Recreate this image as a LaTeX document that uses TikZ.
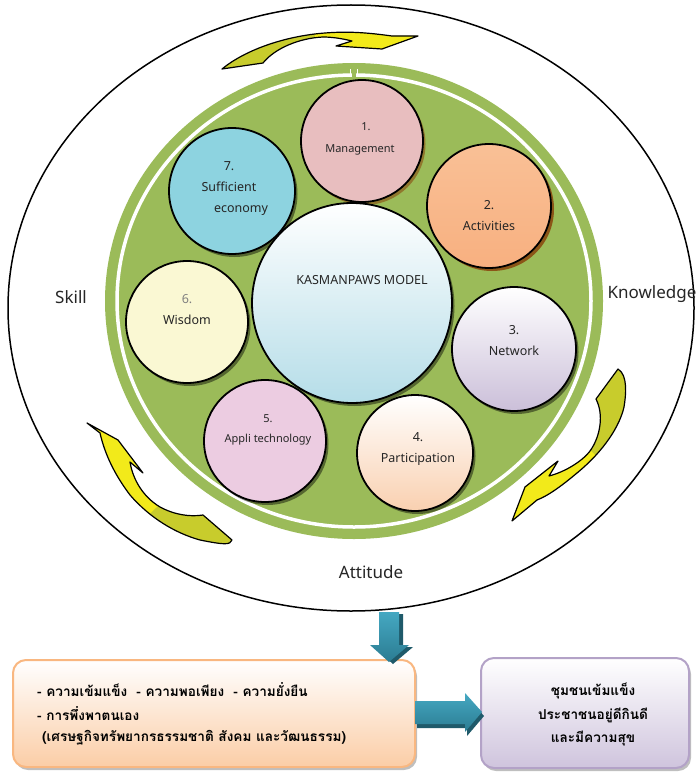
\documentclass[tikz,border=0pt]{standalone}
\usepackage{fontspec}
\setmainfont{Noto Sans}
\newfontfamily\thaifont[Script=Thai]{Loma}
\usetikzlibrary{shadows}
\definecolor{grn}{HTML}{9BBB59}
\definecolor{txt}{HTML}{262626}
\definecolor{yel}{HTML}{F2EA1A}
\definecolor{oli}{HTML}{C8CC2C}
\definecolor{tealL}{HTML}{45A8C2}
\definecolor{tealD}{HTML}{2B7C92}
\definecolor{tealS}{HTML}{1F5A6A}
\definecolor{mgA}{HTML}{E8BEBF}
\definecolor{mgB}{HTML}{F6E6E6}
\definecolor{orA}{HTML}{F9C096}
\definecolor{orB}{HTML}{F58F40}
\definecolor{orC}{HTML}{F8B080}
\definecolor{bluC}{HTML}{8DD3E0}
\definecolor{cenB}{HTML}{B5DDE8}
\definecolor{wisC}{HTML}{FAF8D3}
\definecolor{lavB}{HTML}{CBBFD9}
\definecolor{pinkC}{HTML}{ECCCE1}
\definecolor{peachB}{HTML}{F9D0B0}
\definecolor{brn}{HTML}{8A4A10}
\definecolor{boxOr}{HTML}{F9B780}
\definecolor{boxOrF}{HTML}{FBCDA6}
\definecolor{boxPu}{HTML}{B3A2C7}
\definecolor{boxPuF}{HTML}{CFC4DD}
\begin{document}
\begin{tikzpicture}[x=1pt,y=-1pt,line join=round,
  sat/.style={circle,draw=black,line width=1.8pt,inner sep=0pt},
  shd/.style={drop shadow={shadow xshift=2.5pt,shadow yshift=-3pt,fill=black,opacity=0.45}},
  lbl/.style={align=center,inner sep=0pt,text=txt,font=\fontsize{12.5}{21}\selectfont},
  big/.style={inner sep=0pt,text=txt,font=\fontsize{17}{20}\selectfont},
  yarrow/.style={draw=black,line width=1.2pt},
  thl/.style={inner sep=0pt,text=black,font=\thaifont\bfseries\fontsize{13.6}{16}\selectfont},
  bx/.style={rounded corners=13pt,line width=2pt,inner sep=0pt}]
\useasboundingbox (0,0) rectangle (699,773);
\fill[white] (0,0) rectangle (699,773);

% outer ellipse
\draw[black,line width=1.5pt] (351,308) ellipse [x radius=343pt,y radius=303pt];

% green disc with white ring
\fill[grn] (354,301) ellipse [x radius=249pt,y radius=238pt];
\draw[white,line width=3.5pt] (354,301) ellipse [x radius=237pt,y radius=226pt];
\fill[grn] (352,70) rectangle (356,80);
\draw[white,line width=1.5pt] (350.5,69) -- (350.5,76) (357.5,69) -- (357.5,76);

% satellite circles
\node[sat,minimum size=122pt,top color=mgA,middle color=mgB,bottom color=mgA,shading angle=45,
  drop shadow={shadow xshift=2.5pt,shadow yshift=-3pt,fill=brn,opacity=0.6}] (c1) at (362,141) {};
\node[sat,minimum size=124pt,top color=orA,middle color=orB,bottom color=orC,
  drop shadow={shadow xshift=3pt,shadow yshift=-3pt,fill=brn,opacity=0.9}] (c2) at (489,206) {};
\node[sat,shd,minimum size=126pt,fill=bluC] (c7) at (232,191) {};
\node[sat,shd,minimum size=200pt,top color=white,bottom color=cenB] (c0) at (352,303) {};
\node[sat,shd,minimum size=122pt,fill=wisC] (c6) at (187,322) {};
\node[sat,shd,minimum size=124pt,top color=white,bottom color=lavB] (c3) at (514,349) {};
\node[sat,shd,minimum size=122pt,fill=pinkC] (c5) at (265,441) {};
\node[sat,shd,minimum size=116pt,top color=white,bottom color=peachB] (c4) at (415,453) {};

% circle labels
\node[lbl,font=\fontsize{11}{22}\selectfont] (t1) at (360,139) {\hspace*{12pt}1.\\Management};
\node[lbl] (t2) at (489,216) {2.\\Activities};
\node[lbl] (t7) at (229,189) {7.\\Sufficient\\\hspace*{24pt}economy};
\node[lbl] (t0) at (362,280) {KASMANPAWS MODEL};
\node[lbl] (t6) at (187,310) {\textcolor{gray}{6.}\\Wisdom};
\node[lbl] (t3) at (514,341) {3.\\Network};
\node[lbl,font=\fontsize{11}{20}\selectfont] (t5) at (268,430) {5.\\Appli technology};
\node[lbl] (t4) at (418,449) {4.\\Participation};

% outer labels
\node[big] (skill) at (71,297) {Skill};
\node[big] (know) at (652,294) {Knowledge};
\node[big] (att) at (371,572) {Attitude};

% top yellow arrow
\def\toparrow{(222,69) .. controls (245,50) and (285,36) .. (325,33) .. controls (350,31) and (370,33) .. (392,36) -- (418,36) -- (382,49) -- (336,46) -- (352,41) .. controls (340,38) and (330,37) .. (323,37) .. controls (300,38) and (275,48) .. (263,63) -- cycle}
\fill[oli] \toparrow;
\begin{scope}\clip \toparrow; \fill[yel] (315,20) rectangle (430,60);\end{scope}
\draw[yarrow] \toparrow;

% right yellow arrow
\def\rtarrow{(618,369) .. controls (628,375) and (626,395) .. (624,407) .. controls (620,425) and (605,450) .. (577,473) .. controls (565,483) and (550,495) .. (537,500) -- (512,521) -- (525,487) -- (558,461) -- (549,476) .. controls (565,472) and (585,460) .. (592,448) .. controls (600,435) and (604,415) .. (596,399) -- cycle}
\fill[oli] \rtarrow;
\begin{scope}\clip \rtarrow; \fill[yel] (540,400) -- (640,500) -- (640,560) -- (480,560) -- (480,400) -- cycle;\end{scope}
\draw[yarrow] \rtarrow;

% left yellow arrow
\def\lfarrow{(87,423) -- (118,440) -- (143,473) -- (130,462) .. controls (132,475) and (140,495) .. (160,507) .. controls (175,515) and (190,517) .. (203,515) -- (232,540) .. controls (230,545) and (225,545) .. (200,540) .. controls (175,533) and (150,518) .. (130,495) .. controls (115,475) and (105,455) .. (100,433) -- cycle}
\fill[yel] \lfarrow;
\begin{scope}\clip \lfarrow; \fill[oli] (180,485) -- (300,485) -- (300,600) -- (60,600) -- cycle;\end{scope}
\draw[yarrow] \lfarrow;

% boxes
\node[bx,draw=boxOr,top color=white,bottom color=boxOrF,minimum width=402pt,minimum height=107pt,
  drop shadow={shadow xshift=2pt,shadow yshift=-3pt,fill=black,opacity=0.25}] (b1) at (214,713.5) {};
\node[bx,draw=boxPu,top color=white,bottom color=boxPuF,minimum width=208pt,minimum height=110pt,
  drop shadow={shadow xshift=2pt,shadow yshift=-3pt,fill=black,opacity=0.25}] (b2) at (585,713) {};

% teal arrows
\def\dnarrow{(379,612) -- (399,612) -- (399,645) -- (409,645) -- (389,662) -- (370,645) -- (379,645) -- cycle}
\fill[tealS,shift={(4,2)}] \dnarrow;
\shade[top color=tealL,bottom color=tealD] \dnarrow;
\def\rtblock{(415,701) -- (465,701) -- (465,693) -- (482,712) -- (465,732) -- (465,724) -- (415,724) -- cycle}
\fill[tealS,shift={(2,4)}] \rtblock;
\shade[top color=tealL,bottom color=tealD] \rtblock;

% thai texts
\node[thl,anchor=west] (l1) at (37,690) {- ความเข้มแข็ง~ - ความพอเพียง~ - ความยั่งยืน};
\node[thl,anchor=west] (l2) at (37,714) {- การพึ่งพาตนเอง};
\node[thl,anchor=west] (l3) at (42,738) {(เศรษฐกิจทรัพยากรธรรมชาติ สังคม และวัฒนธรรม)};
\node[thl] (r1) at (593,691) {ชุมชนเข้มแข็ง};
\node[thl] (r2) at (593,715) {ประชาชนอยู่ดีกินดี};
\node[thl] (r3) at (593,739) {และมีความสุข};
\end{tikzpicture}
\end{document}
